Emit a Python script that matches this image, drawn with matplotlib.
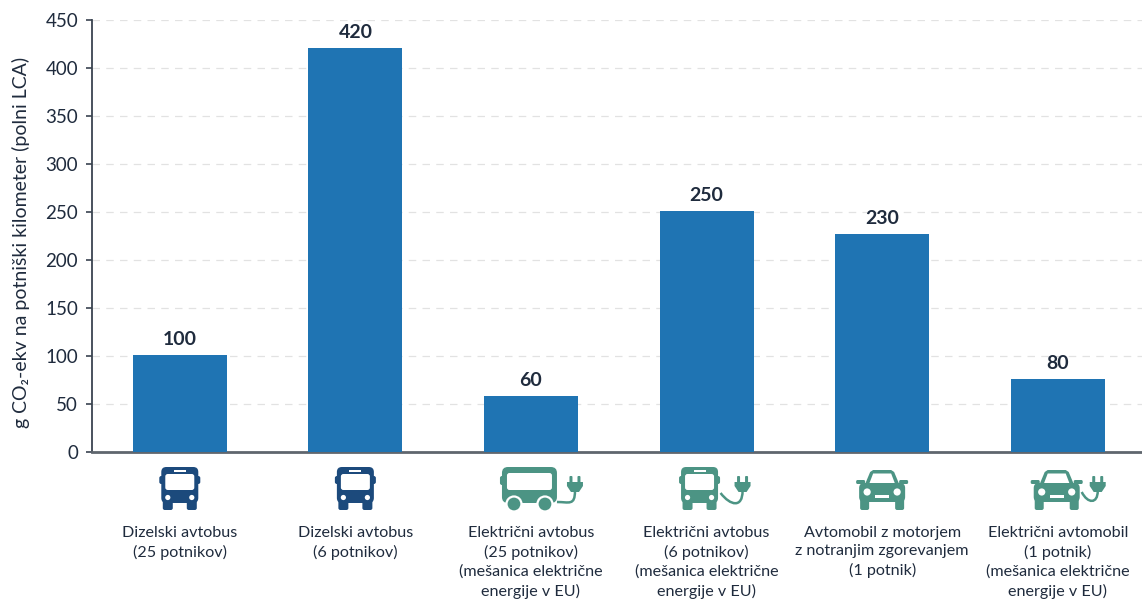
import matplotlib
matplotlib.use('Agg')
import matplotlib.pyplot as plt
from matplotlib.patches import Circle, FancyBboxPatch, Polygon, Rectangle
from matplotlib.path import Path
from matplotlib.patches import PathPatch

plt.rcParams['font.family'] = ['Lato', 'Noto Sans', 'DejaVu Sans']

categories = [
    'Dizelski avtobus\n(25 potnikov)',
    'Dizelski avtobus\n(6 potnikov)',
    'Električni avtobus\n(25 potnikov)\n(mešanica električne\nenergije v EU)',
    'Električni avtobus\n(6 potnikov)\n(mešanica električne\nenergije v EU)',
    'Avtomobil z motorjem\nz notranjim zgorevanjem\n(1 potnik)',
    'Električni avtomobil\n(1 potnik)\n(mešanica električne\nenergije v EU)',
]
# bar heights as drawn, the printed labels are rounded differently
bar_heights = [101, 421, 58, 251, 227, 76]
value_labels = ['100', '420', '60', '250', '230', '80']
y_ticks = [0, 50, 100, 150, 200, 250, 300, 350, 400, 450]

W, H = 1142, 603
text_col = '#1f2b3d'
bar_col = '#1f74b3'
navy = '#1c4a7c'
teal = '#4c9484'

fig = plt.figure(figsize=(W / 100, H / 100), dpi=100)
ax = fig.add_axes([92 / W, 1 - 452 / H, (W - 92) / W, 432 / H])

x = list(range(len(categories)))
ax.bar(x, bar_heights, width=0.535, color=bar_col, zorder=3)
for xi, h, lab in zip(x, bar_heights, value_labels):
    ax.annotate(lab, (xi, h), xytext=(0, 5), textcoords='offset points',
                ha='center', va='bottom', fontsize=14, fontweight='bold', color=text_col)

ax.set_xlim(-0.5, 5.48)
ax.set_ylim(0, 450)
ax.set_yticks(y_ticks)
ax.set_xticks(x)
ax.set_xticklabels(categories, fontsize=11.6, color=text_col, linespacing=1.42)
ax.tick_params(axis='x', length=0, pad=53)
ax.tick_params(axis='y', length=4, width=1.2, labelsize=13.5, labelcolor=text_col, color='#3a4350', pad=6)
ax.grid(axis='y', color='#e2e2e2', linestyle=(0, (6, 5)), linewidth=0.9, zorder=0)
ax.set_axisbelow(True)
for s in ['top', 'right']:
    ax.spines[s].set_visible(False)
ax.spines['left'].set_color('#3a4350')
ax.spines['left'].set_linewidth(1.3)
ax.spines['bottom'].set_color('#5f666e')
ax.spines['bottom'].set_linewidth(2)
ax.set_ylabel('g CO₂-ekv na potniški kilometer (polni LCA)', fontsize=14, color=text_col)
ax.yaxis.set_label_coords(-0.0595, 0.484)

# overlay in pixel coordinates for the icons
ic = fig.add_axes([0, 0, 1, 1], facecolor='none')
ic.set_xlim(0, W)
ic.set_ylim(H, 0)
ic.axis('off')


def rbox(x0, y0, w, h, r, col):
    ic.add_patch(FancyBboxPatch((x0 + r, y0 + r), w - 2 * r, h - 2 * r,
                                boxstyle='round,pad=%g,rounding_size=%g' % (r, r),
                                fc=col, ec='none'))


def bus_front(cx, col):
    rbox(cx - 18.5, 467, 37, 36, 5, col)
    rbox(cx - 20.5, 476, 41, 8, 2, col)
    rbox(cx - 17, 498, 10, 12, 2, col)
    rbox(cx + 7, 498, 10, 12, 2, col)
    rbox(cx - 14.5, 474, 29, 16, 2.5, 'white')
    ic.add_patch(Rectangle((cx - 6, 470), 12, 1.6, fc='white', ec='none'))
    ic.add_patch(Circle((cx - 12, 497.5), 2.6, fc='white', ec='none'))
    ic.add_patch(Circle((cx + 12, 497.5), 2.6, fc='white', ec='none'))


def bus_side(x0, x1, col):
    rbox(x0, 467, x1 - x0, 36, 6, col)
    rbox(x0 - 2, 476, 5, 9, 2, col)
    rbox(x0 + 5, 473, x1 - x0 - 10, 17, 2.5, 'white')
    for wx in (x0 + 12, x1 - 12):
        ic.add_patch(Circle((wx, 504), 7.5, fc=col, ec='white', lw=1.6))


def car_front(cx, col, half=25):
    body = [(cx - half + 8, 484), (cx - half + 13, 472), (cx - half + 16, 470),
            (cx + half - 16, 470), (cx + half - 13, 472), (cx + half - 8, 484)]
    ic.add_patch(Polygon(body, closed=True, fc=col, ec='none'))
    inner = [(cx - half + 12, 484), (cx - half + 16, 473.5), (cx + half - 16, 473.5), (cx + half - 12, 484)]
    ic.add_patch(Polygon(inner, closed=True, fc='white', ec='none'))
    rbox(cx - half - 1, 480, 9, 4, 1.5, col)
    rbox(cx + half - 8, 480, 9, 4, 1.5, col)
    rbox(cx - half + 2, 483, 2 * half - 4, 19, 5, col)
    rbox(cx - half + 3, 498, 9, 12, 2, col)
    rbox(cx + half - 12, 498, 9, 12, 2, col)
    ic.add_patch(Circle((cx - half + 10, 492), 3.6, fc='white', ec='none'))
    ic.add_patch(Circle((cx + half - 10, 492), 3.6, fc='white', ec='none'))
    ic.add_patch(Rectangle((cx - 7, 495), 14, 2.6, fc='white', ec='none'))


def plug(px, col, start, ctrl):
    # prongs, head and a curved cable back to the vehicle
    rbox(px - 5.5, 476, 3, 8, 1, col)
    rbox(px + 2.5, 476, 3, 8, 1, col)
    ic.add_patch(Polygon([(px - 8, 482), (px + 8, 482), (px + 8, 486), (px + 4, 492), (px - 4, 492), (px - 8, 486)],
                         closed=True, fc=col, ec='none'))
    cable = Path([(px, 491), ctrl[0], ctrl[1], start],
                 [Path.MOVETO, Path.CURVE4, Path.CURVE4, Path.CURVE4])
    ic.add_patch(PathPatch(cable, fc='none', ec=col, lw=1.8))


cx = [ax.transData.transform((xi, 0))[0] for xi in x]
bus_front(cx[0], navy)
bus_front(cx[1], navy)
bus_side(cx[2] - 29, cx[2] + 26, teal)
plug(cx[2] + 44, teal, (cx[2] + 26, 502), ((cx[2] + 44, 506), (cx[2] + 38, 502)))
bus_front(cx[3] - 7, teal)
plug(cx[3] + 36, teal, (cx[3] + 14, 493), ((cx[3] + 36, 508), (cx[3] + 24, 506)))
car_front(cx[4], teal)
car_front(cx[5] - 1, teal)
plug(cx[5] + 40, teal, (cx[5] + 24, 492), ((cx[5] + 40, 504), (cx[5] + 30, 504)))

fig.savefig('out.png', dpi=100)
